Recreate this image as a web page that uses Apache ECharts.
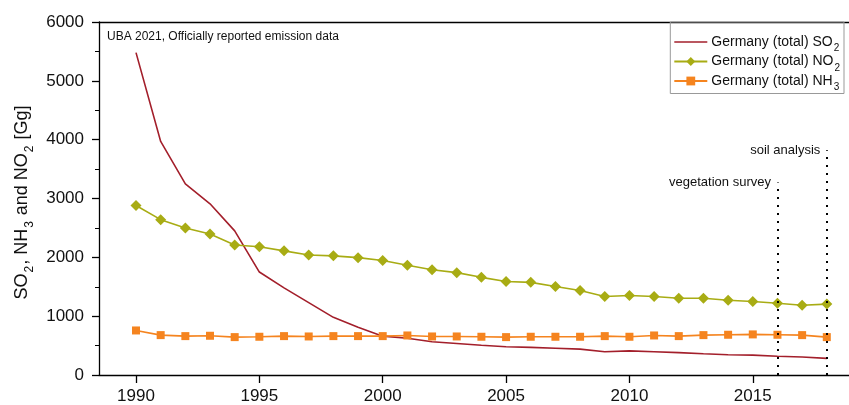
<!DOCTYPE html>
<html>
<head>
<meta charset="utf-8">
<script src="https://cdn.jsdelivr.net/npm/echarts@6/dist/echarts.min.js"></script>
<style>html,body{margin:0;padding:0;background:#fff}#c{width:849px;height:405px}</style>
</head>
<body>
<div id="c"></div>
<script>
const years = [1990,1991,1992,1993,1994,1995,1996,1997,1998,1999,2000,2001,2002,2003,2004,2005,2006,2007,2008,2009,2010,2011,2012,2013,2014,2015,2016,2017,2018];
const so2 = [5480,3970,3250,2910,2450,1750,1480,1230,980,810,660,625,565,535,505,480,470,455,440,395,410,395,380,360,345,338,318,305,282];
const no2 = [2880,2640,2500,2395,2210,2180,2110,2040,2025,1995,1945,1865,1790,1740,1660,1590,1575,1505,1435,1335,1350,1335,1305,1305,1270,1250,1220,1185,1205];
const nh3 = [757,678,661,667,644,650,661,655,661,661,661,672,655,655,650,644,650,650,650,661,650,672,661,678,684,690,684,678,644];
const xTickLabels = [1990,1995,2000,2005,2010,2015];
const yTickLabels = [0,1000,2000,3000,4000,5000,6000];
const eventYears = [2016, 2018];
const eventTops = [3270, 3820];
const eventNames = ['vegetation survey', 'soil analysis'];
const seriesNames = ['Germany (total) SO\u2082','Germany (total) NO\u2082','Germany (total) NH\u2083'];
const legendRich = ['{a|Germany (total) SO}{s|2}','{a|Germany (total) NO}{s|2}','{a|Germany (total) NH}{s|3}'];

const font = 'Liberation Sans, Arial, sans-serif';
const pair = arr => years.map((y,i)=>[y,arr[i]]);

const chart = echarts.init(document.getElementById('c'), null, {renderer:'canvas'});
chart.setOption({
  animation:false,
  textStyle:{fontFamily:font},
  grid:{left:99, top:22, right:0, bottom:29},
  title:{text:'UBA 2021, Officially reported emission data', left:107, top:31, padding:0,
    textStyle:{fontSize:12, fontWeight:'normal', color:'#111', fontFamily:font}},
  legend:{
    right:5, top:22, orient:'vertical', align:'left',
    itemWidth:33, itemHeight:11, itemGap:1,
    padding:[13,4,1,3],
    borderColor:'#999', borderWidth:1,
    data:[
      {name:seriesNames[0], icon:'path://M0,0H33V1.6H0Z'},
      {name:seriesNames[1]},
      {name:seriesNames[2]}
    ],
    formatter: name => legendRich[seriesNames.indexOf(name)],
    textStyle:{fontFamily:font, color:'#111', padding:[0,0,0,-1],
      rich:{a:{fontSize:14, lineHeight:17, fontFamily:font, color:'#111'},
            s:{fontSize:10, lineHeight:10, verticalAlign:'bottom', fontFamily:font, color:'#111', padding:[0,0,-3,1]}}}
  },
  xAxis:[{
    type:'value', min:1988.5, max:2018.9,
    splitLine:{show:false},
    axisLine:{lineStyle:{color:'#000', width:1.3}},
    axisTick:{customValues:xTickLabels, length:8, lineStyle:{color:'#000', width:1.3}},
    axisLabel:{customValues:xTickLabels, fontSize:17, color:'#111', margin:13, fontFamily:font, formatter:v=>String(v)}
  },{
    type:'value', position:'top', min:1988.5, max:2018.9,
    splitLine:{show:false}, axisTick:{show:false}, axisLabel:{show:false},
    axisLine:{show:true, lineStyle:{color:'#000', width:1.3}}
  }],
  yAxis:{
    type:'value', min:0, max:6000,
    axisLabel:{customValues:yTickLabels, fontSize:17, color:'#111', margin:15, fontFamily:font, formatter:v=>String(v)},
    axisTick:{customValues:yTickLabels, length:7, lineStyle:{color:'#000', width:1.3}},
    minorTick:{show:true, splitNumber:2, length:4, lineStyle:{color:'#000'}},
    axisLine:{show:true, lineStyle:{color:'#000', width:1.3}},
    splitLine:{show:false},
    interval:1000,
    name:'{a|SO}{s|2}{a|, NH}{s|3}{a| and NO}{s|2}{a| [Gg]}',
    nameLocation:'middle', nameGap:66,
    nameTextStyle:{fontFamily:font, color:'#111', padding:[0,8,0,0],
      rich:{a:{fontSize:18, lineHeight:21, fontFamily:font, color:'#111'},
            s:{fontSize:12, lineHeight:12, verticalAlign:'bottom', fontFamily:font, color:'#111', padding:[0,1,-3,1]}}}
  },
  series:[
    {name:seriesNames[0], type:'line', data:pair(so2), showSymbol:false, symbol:'none',
     lineStyle:{color:'#a31f2b', width:1.6}, itemStyle:{color:'#a31f2b'},
     markLine:{silent:true, symbol:'none', label:{show:false},
       lineStyle:{color:'#000', type:[2,6], width:2},
       data: eventYears.map((y,i)=>[{coord:[y,0]},{coord:[y,eventTops[i]]}])},
     markPoint:{silent:true, symbol:'circle', symbolSize:1, itemStyle:{color:'rgba(0,0,0,0)'},
       label:{show:true, position:'left', distance:6, fontSize:13, color:'#111', fontFamily:font, formatter:p=>p.name},
       data: eventYears.map((y,i)=>({name:eventNames[i], coord:[y,eventTops[i]]}))}
    },
    {name:seriesNames[1], type:'line', data:pair(no2), symbol:'diamond', symbolSize:11,
     lineStyle:{color:'#a8ac14', width:1.6}, itemStyle:{color:'#a8ac14'}},
    {name:seriesNames[2], type:'line', data:pair(nh3), symbol:'rect', symbolSize:8,
     lineStyle:{color:'#f5841f', width:1.6}, itemStyle:{color:'#f5841f'}}
  ]
});
</script>
</body>
</html>
